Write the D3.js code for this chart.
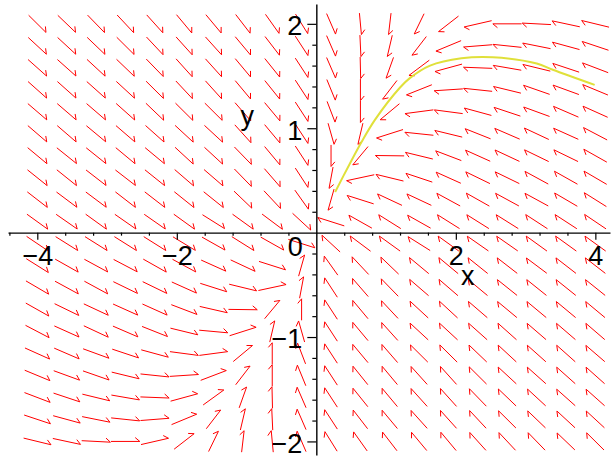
<!DOCTYPE html>
<html>
<head>
<meta charset="utf-8">
<script src="https://cdn.jsdelivr.net/npm/d3@7"></script>
<style>
  body { margin: 0; background: #fff; }
  text { font-family: "Liberation Sans", Arial, sans-serif; }
</style>
</head>
<body>
<script>
// grid of the direction field (arrow centres)
var xGrid = [-4, -3.579, -3.158, -2.737, -2.316, -1.895, -1.474, -1.053, -0.632, -0.211,
             0.211, 0.632, 1.053, 1.474, 1.895, 2.316, 2.737, 3.158, 3.579, 4];
var yGrid = [2, 1.789, 1.579, 1.368, 1.158, 0.947, 0.737, 0.526, 0.316, 0.105,
             -0.105, -0.316, -0.526, -0.737, -0.947, -1.158, -1.368, -1.579, -1.789, -2];

// arrow directions in degrees (measured in grid-cell units), one row per yGrid value
var angles = [
  [-53, -52, -54, -55, -56, -58, -58, -60, -62, -65, -72, -86, -95, -110, -134, -163, 180, 176, 164, 162],
  [-51, -51, -52, -53, -55, -56, -56, -58, -60, -64, -72, -88, -100, -120, -151, -174, 172, 165, 160, 156],
  [-50, -50, -51, -52, -54, -56, -56, -58, -59, -64, -72, -89, -105, -135, -160, 177, 167, 162, 156, 153],
  [-50, -50, -50, -51, -53, -55, -56, -58, -59, -64, -73, -90, -120, -152, -175, 172, 162, 155, 154, 151],
  [-49, -49, -49, -50, -52, -53, -53, -57, -58, -64, -74, -90, -132, -170, 170, 160, 156, 154, 150, 149],
  [-49, -49, -48, -49, -50, -51, -51, -56, -58, -64, -78, -100, -157, 172, 162, 152, 150, 148, 149, 145],
  [-48, -47, -47, -48, -48, -51, -51, -54, -58, -64, -90, -122, 179, 162, 153, 149, 148, 147, 147, 143],
  [-47, -47, -46, -46, -47, -49, -49, -54, -57, -64, -98, -164, 162, 156, 149, 147, 147, 144, 143, 142],
  [-46, -45, -45, -46, -46, -47, -47, -52, -55, -62, -102, 157, 148, 148, 144, 143, 144, 144, 142, 140],
  [-44, -43, -44, -43, -43, -44, -40, -44, -45, -51, 157, 143, 140, 143, 140, 140, 140, 139, 139, 138],
  [-42, -40, -40, -40, -40, -39, -37, -40, -37, -23, 129, 135, 136, 140, 136, 137, 137, 136, 136, 136],
  [-40, -37, -36, -35, -37, -36, -31, -32, -23, 78, 118, 125, 128, 132, 132, 133, 134, 135, 134, 134],
  [-38, -36, -36, -33, -33, -31, -23, -18, 16, 82, 116, 123, 126, 131, 131, 132, 133, 133, 133, 133],
  [-37, -33, -32, -31, -31, -27, -17, -1, 58, 90, 116, 122, 125, 129, 129, 131, 132, 132, 132, 132],
  [-35, -31, -32, -30, -28, -18, -7, 23, 80, 102, 116, 122, 124, 129, 129, 130, 130, 131, 131, 131],
  [-31, -30, -26, -24, -20, -10, 10, 48, 90, 106, 116, 122, 123, 127, 127, 128, 129, 130, 130, 131],
  [-29, -26, -25, -18, -8, 5, 27, 60, 90, 107, 116, 121, 122, 124, 124, 127, 129, 130, 130, 130],
  [-27, -24, -18, -13, -3, 20, 44, 75, 91, 108, 116, 121, 122, 124, 124, 126, 128, 129, 130, 130],
  [-24, -20, -15, -8, 6, 29, 60, 80, 92, 108, 116, 120, 122, 124, 124, 125, 127, 128, 129, 129],
  [-18, -16, -4, 0, 17, 46, 70, 85, 94, 108, 115, 118, 120, 122, 122, 124, 125, 126, 128, 127]
];

// solution curve
var curveX = [0.27, 0.48, 0.65, 0.84, 1.2, 1.34, 1.63, 2.08, 2.53, 3.16, 3.39, 3.99];
var curveY = [0.39, 0.66, 0.87, 1.08, 1.39, 1.48, 1.6, 1.67, 1.68, 1.62, 1.56, 1.415];

// ticks
var xMinor = [-4.4, -3.6, -3.2, -2.8, -2.4, -1.6, -1.2, -0.8, -0.4, 0.4, 0.8, 1.2, 1.6, 2.4, 2.8, 3.2, 3.6];
var xMajor = [-4, -2, 2, 4];
var yMinor = [-1.8, -1.6, -1.4, -1.2, -0.8, -0.6, -0.4, -0.2, 0.2, 0.4, 0.6, 0.8, 1.2, 1.4, 1.6, 1.8];
var yMajor = [-2, -1, 1, 2];

var width = 612, height = 463;

var svg = d3.select("body").append("svg")
  .attr("width", width)
  .attr("height", height);

var x = d3.scaleLinear().domain([-4.42, 4.21]).range([8, 610]);
var y = d3.scaleLinear().domain([-2.13, 2.19]).range([455, 4]);

var cellW = (xGrid[xGrid.length - 1] - xGrid[0]) / (xGrid.length - 1);
var cellH = (yGrid[0] - yGrid[yGrid.length - 1]) / (yGrid.length - 1);

var field = [];
yGrid.forEach(function(yv, j) {
  xGrid.forEach(function(xv, i) {
    field.push({ x: xv, y: yv, a: angles[j][i] });
  });
});

function arrowPath(d) {
  var r = d.a * Math.PI / 180;
  var hx = Math.cos(r) * cellW * 0.49, hy = Math.sin(r) * cellH * 0.49;
  var x0 = x(d.x - hx), y0 = y(d.y - hy);
  var x1 = x(d.x + hx), y1 = y(d.y + hy);
  var bx = x0 - x1, by = y0 - y1;
  var len = Math.sqrt(bx * bx + by * by);
  bx /= len; by /= len;
  var t = 40 * Math.PI / 180;
  var rx = bx * Math.cos(t) - by * Math.sin(t);
  var ry = bx * Math.sin(t) + by * Math.cos(t);
  return "M" + x0 + "," + y0 + "L" + x1 + "," + y1 + "L" + (x1 + rx * 6) + "," + (y1 + ry * 6);
}

/* direction field */
svg.append("g")
    .attr("fill", "none")
    .attr("stroke", "#ff0000")
    .attr("stroke-width", 1)
  .selectAll("path")
  .data(field)
  .enter().append("path")
    .attr("d", arrowPath);

/* solution curve */
var line = d3.line()
  .x(function(d, i) { return x(curveX[i]); })
  .y(function(d, i) { return y(curveY[i]); })
  .curve(d3.curveCatmullRom);

svg.append("path")
  .attr("d", line(curveX))
  .attr("fill", "none")
  .attr("stroke", "#e0e03a")
  .attr("stroke-width", 2);

/* axes */
function styleAxis(g) {
  g.selectAll(".domain").attr("stroke", "#000").attr("stroke-width", 1.4);
  g.selectAll(".tick line").attr("stroke", "#000").attr("stroke-width", 1.2);
  g.selectAll(".tick text")
    .attr("fill", "#000")
    .attr("font-size", 27)
    .attr("font-family", "Liberation Sans, Arial, sans-serif");
}

var intFormat = d3.format("d");

svg.append("g")
  .attr("transform", "translate(0," + y(0) + ")")
  .call(d3.axisBottom(x).tickValues(xMinor).tickSize(3).tickSizeOuter(0).tickFormat(""))
  .call(styleAxis);

svg.append("g")
  .attr("transform", "translate(0," + y(0) + ")")
  .call(d3.axisBottom(x).tickValues(xMajor).tickSize(7).tickPadding(6).tickSizeOuter(0).tickFormat(intFormat))
  .call(function(g) { g.select(".domain").remove(); })
  .call(styleAxis);

svg.append("g")
  .attr("transform", "translate(" + x(0) + ",0)")
  .call(d3.axisLeft(y).tickValues(yMinor).tickSize(4).tickSizeOuter(0).tickFormat(""))
  .call(styleAxis);

svg.append("g")
  .attr("transform", "translate(" + x(0) + ",0)")
  .call(d3.axisLeft(y).tickValues(yMajor).tickSize(9).tickPadding(5).tickSizeOuter(0).tickFormat(intFormat))
  .call(function(g) { g.select(".domain").remove(); })
  .call(function(g) { g.selectAll(".tick text").attr("dy", "0.4em"); })
  .call(styleAxis);

svg.append("text")
  .attr("x", x(0) - 21)
  .attr("y", y(0) + 23)
  .attr("text-anchor", "middle")
  .attr("font-size", 27)
  .text("0");

svg.append("text")
  .attr("x", x(2.17))
  .attr("y", y(-0.5))
  .attr("text-anchor", "middle")
  .attr("font-size", 27)
  .text("x");

svg.append("text")
  .attr("x", x(-0.99))
  .attr("y", y(1.03))
  .attr("text-anchor", "middle")
  .attr("font-size", 27)
  .text("y");
</script>
</body>
</html>
